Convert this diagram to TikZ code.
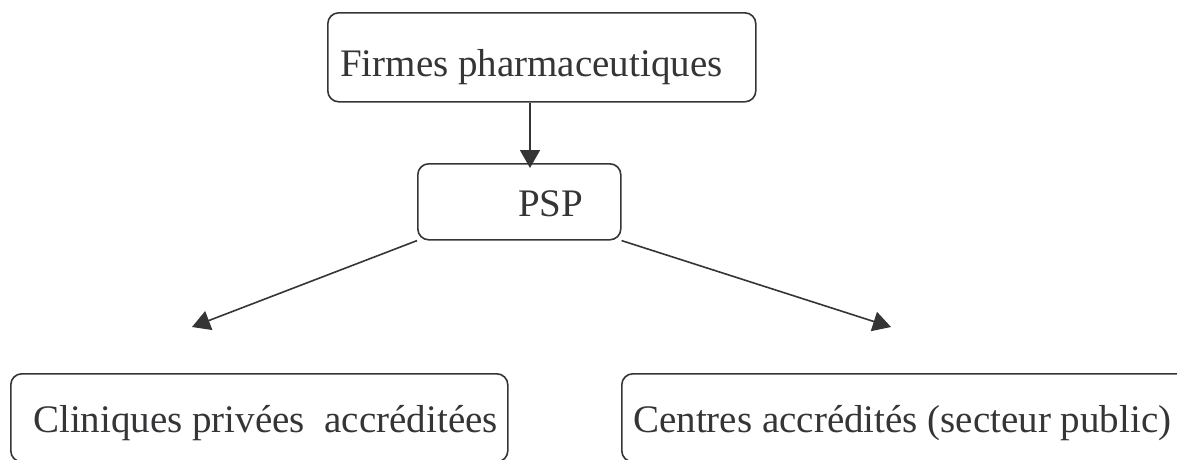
\documentclass[tikz,border=0pt]{standalone}
\usepackage{fontspec}
\setmainfont{Liberation Serif}
\usetikzlibrary{arrows.meta}
\definecolor{ink}{HTML}{353538}
\begin{document}
\begin{tikzpicture}[x=1pt,y=-1pt,
  box/.style={draw=ink,line width=1.6pt,rounded corners=11pt,inner sep=0pt,anchor=north west},
  lbl/.style={anchor=base west,inner sep=0pt,text=ink,font=\fontsize{39}{44}\selectfont},
  arr/.style={draw=ink,line width=1.6pt,-{Triangle[length=18pt,width=20pt]}}]
  \useasboundingbox (0,0) rectangle (1177,459);
  % boxes
  \node[box,minimum width=428pt,minimum height=89pt] (firmes) at (327,12) {};
  \node[box,minimum width=203pt,minimum height=76pt] (psp) at (417,163) {};
  \node[box,minimum width=497pt,minimum height=88pt] (clin) at (10,373) {};
  \node[box,minimum width=572pt,minimum height=88pt] (cent) at (621,373) {};
  % labels
  \node[lbl] (tfirmes) at (340,76) {Firmes pharmaceutiques};
  \node[lbl] (tpsp) at (518,216) {PSP};
  \node[lbl] (tclin) at (33,432) {Cliniques privées\ \ accréditées};
  \node[lbl] (tcent) at (633,432) {Centres accrédités (secteur public)};
  % arrow tips
  \coordinate (t1) at (530,168);
  \coordinate (t2) at (192,327);
  \coordinate (t3) at (891,327);
  % connectors
  \draw[arr] (firmes.south -| t1) -- (t1);
  \draw[arr] (psp.south west) -- (t2);
  \draw[arr] (psp.south east) -- (t3);
\end{tikzpicture}
\end{document}
